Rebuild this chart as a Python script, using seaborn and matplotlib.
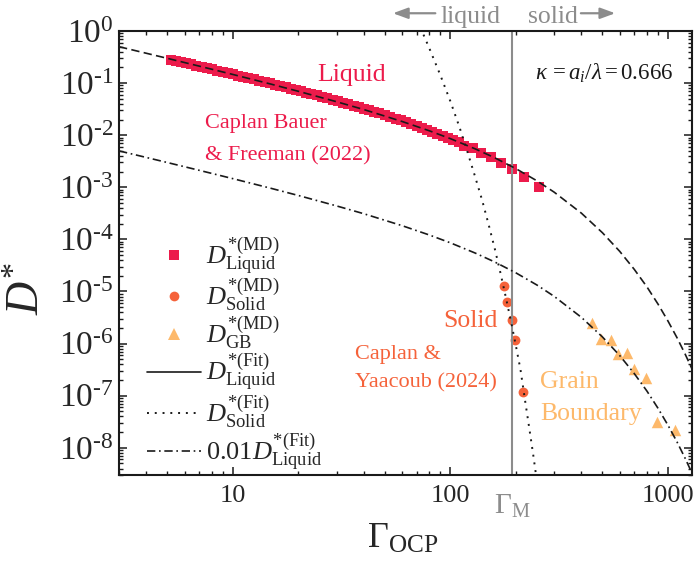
import numpy as np
import pandas as pd
import matplotlib
matplotlib.use("Agg")
import matplotlib.pyplot as plt
import seaborn as sns
from matplotlib.lines import Line2D
from matplotlib import ticker, transforms

# ---------------- data ----------------
liq_gamma = [5.2, 5.5, 5.8, 6.1, 6.4, 6.8, 7.2, 7.6, 8.0, 8.5, 9.0, 9.5, 10, 10.6,
             11.2, 11.8, 12.5, 13.2, 14, 14.8, 15.6, 16.5, 17.5, 18.5, 19.5, 20.6,
             21.8, 23, 24.3, 25.7, 27.2, 28.8, 30.4, 32.1, 34, 36, 38, 40, 42.3,
             44.7, 47.2, 50, 53, 56, 59, 62.5, 66, 70, 74, 78, 82.5, 87, 92, 97,
             103, 109, 116, 127, 138, 153, 171, 191, 218, 255]
liq_D = [0.279, 0.265, 0.2515, 0.2395, 0.2286, 0.2156, 0.2038, 0.1933, 0.1838,
         0.1732, 0.1636, 0.1551, 0.1473, 0.1389, 0.1314, 0.1246, 0.1175, 0.1111,
         0.1046, 0.0988, 0.0935, 0.0881, 0.0828, 0.0781, 0.0738, 0.0695, 0.0653,
         0.0616, 0.0579, 0.0544, 0.0510, 0.0478, 0.0448, 0.0421, 0.0393, 0.0367,
         0.0343, 0.0322, 0.0300, 0.0280, 0.0261, 0.0242, 0.0224, 0.02075, 0.0193,
         0.0178, 0.01644, 0.01508, 0.01387, 0.01279, 0.01170, 0.01075, 0.00980,
         0.00896, 0.00807, 0.00729, 0.00631, 0.00562, 0.00457, 0.00380, 0.00295,
         0.00226, 0.001585, 0.00101]

sol_gamma = [176, 183, 191, 199, 215]
sol_D = [1.28e-5, 6.4e-6, 2.8e-6, 1.17e-6, 1.2e-7]

gb_gamma = [447, 491, 546, 590, 649, 699, 794, 892, 1082]
gb_D = [2.5e-6, 1.24e-6, 1.17e-6, 6.2e-7, 6.5e-7, 3.3e-7, 2.2e-7, 3.1e-8, 2.2e-8]

fit_liq_gamma = [3, 4, 5, 7, 10, 15, 20, 30, 40, 60, 80, 100, 130, 160, 200, 250,
                 300, 400, 500, 600, 700, 800, 900, 1000, 1100, 1200, 1300]
fit_liq_D = [0.500, 0.3745, 0.299, 0.2122, 0.1467, 0.0955, 0.0697, 0.0439, 0.0311,
             0.01834, 0.01216, 0.00859, 0.00547, 0.00368, 0.00228, 0.00133,
             8.06e-4, 3.19e-4, 1.34e-4, 5.90e-5, 2.66e-5, 1.23e-5, 5.73e-6,
             2.71e-6, 1.30e-6, 6.25e-7, 3.03e-7]
gb_scale = 0.01  # "0.01 D*(Fit) Liquid"

fit_sol_gamma = [70, 74, 80, 90, 100, 110, 120, 130, 140, 150, 160, 170, 180, 190,
                 200, 210, 220, 230, 240, 250]
fit_sol_D = [1.58, 1.0, 0.468, 0.141, 0.0447, 0.01445, 4.68e-3, 1.585e-3, 5.62e-4,
             1.905e-4, 6.61e-5, 2.24e-5, 7.59e-6, 2.63e-6, 9.12e-7, 3.16e-7,
             8.51e-8, 2.51e-8, 7.59e-9, 2.24e-9]

gamma_melt = 192
x_major = [10, 100, 1000]
x_major_labels = ["10", "100", "1000"]
y_exponents = [0, -1, -2, -3, -4, -5, -6, -7, -8]

# ---------------- style ----------------
sns.set_theme(style="ticks")
plt.rcParams.update({
    "font.family": ["Liberation Serif", "DejaVu Serif"],
    "mathtext.fontset": "custom",
    "mathtext.rm": "Liberation Serif",
    "mathtext.it": "Liberation Serif:italic",
    "mathtext.bf": "Liberation Serif:bold",
    "axes.linewidth": 1.5,
})

C_LIQ = "#EC1B4B"
C_SOL = "#F5623A"
C_GB = "#FDB96B"
C_GRAY = "#8C8C8C"

fig = plt.figure(figsize=(6.96, 5.68), dpi=100)
ax = fig.add_axes([0.1710, 0.1637, 0.8233, 0.7817])
ax.set_xscale("log")
ax.set_yscale("log")

liq_df = pd.DataFrame({"g": liq_gamma, "D": liq_D})
sol_df = pd.DataFrame({"g": sol_gamma, "D": sol_D})
gb_df = pd.DataFrame({"g": gb_gamma, "D": gb_D})
fl_df = pd.DataFrame({"g": fit_liq_gamma, "D": fit_liq_D})
fl01_df = pd.DataFrame({"g": fit_liq_gamma, "D": np.asarray(fit_liq_D) * gb_scale})
fs_df = pd.DataFrame({"g": fit_sol_gamma, "D": fit_sol_D})

sns.scatterplot(data=liq_df, x="g", y="D", marker="s", s=52, color=C_LIQ,
                linewidth=0, ax=ax, zorder=2)
sns.scatterplot(data=sol_df, x="g", y="D", marker="o", s=50, color=C_SOL,
                linewidth=0, ax=ax, zorder=2)
sns.scatterplot(data=gb_df, x="g", y="D", marker="^", s=68, color=C_GB,
                linewidth=0, ax=ax, zorder=2)

ax.axvline(gamma_melt, color=C_GRAY, lw=1.5, zorder=2.5)

sns.lineplot(data=fl_df, x="g", y="D", sort=False, estimator=None, color="k",
             lw=1.2, linestyle=(0, (5, 2.6)), ax=ax, zorder=3)
sns.lineplot(data=fl01_df, x="g", y="D", sort=False, estimator=None, color="k",
             lw=1.2, linestyle=(0, (5, 2.2, 1, 2.2)), ax=ax, zorder=3)
sns.lineplot(data=fs_df, x="g", y="D", sort=False, estimator=None, color="k",
             lw=1.4, linestyle=(0, (1, 3)), ax=ax, zorder=3)

ax.set_xlim(3, 1290)
ax.set_ylim(3e-9, 1)
ax.set_xlabel("")
ax.set_ylabel("")

# ticks
ax.xaxis.set_major_locator(ticker.FixedLocator(x_major))
ax.xaxis.set_major_formatter(ticker.FixedFormatter(x_major_labels))
ax.xaxis.set_minor_locator(ticker.LogLocator(base=10, subs=np.arange(2, 10), numticks=100))
ax.xaxis.set_minor_formatter(ticker.NullFormatter())
y_major = [10.0 ** e for e in y_exponents]
y_labels = [r"$10^{%s}$" % (str(e) if e >= 0 else r"\text{-}%d" % (-e)) for e in y_exponents]
ax.yaxis.set_major_locator(ticker.FixedLocator(y_major))
ax.yaxis.set_major_formatter(ticker.FixedFormatter(y_labels))
ax.yaxis.set_minor_locator(ticker.LogLocator(base=10, subs=np.arange(2, 10), numticks=100))
ax.yaxis.set_minor_formatter(ticker.NullFormatter())

ax.tick_params(which="both", direction="in", top=True, right=True, color="k")
ax.tick_params(which="major", length=6, width=1.1)
ax.tick_params(which="minor", length=3, width=1.0)
ax.tick_params(axis="x", which="major", labelsize=19, pad=7)
ax.tick_params(axis="y", which="major", labelsize=24, pad=4)
for sp in ax.spines.values():
    sp.set_linewidth(1.5)
    sp.set_color("k")

# axis labels
fig.text(403 / 696, 1 - 548 / 568, r"$\Gamma_{\rm OCP}$", fontsize=26,
         ha="center", va="baseline")
fig.text(28 / 696, 1 - 288 / 568, r"$D^{*}$", fontsize=33, rotation=90,
         ha="center", va="center")

# annotations
T = ax.transAxes
ax.text(0.4066, 0.887, "Liquid", color=C_LIQ, fontsize=18.5, ha="center",
        va="baseline", transform=T)
ax.text(0.150, 0.781, "Caplan Bauer", color=C_LIQ, fontsize=16, ha="left",
        va="baseline", transform=T)
ax.text(0.150, 0.7095, "& Freeman (2022)", color=C_LIQ, fontsize=16, ha="left",
        va="baseline", transform=T)
ax.text(0.967, 0.8896, r"$\kappa\,=a_i/\lambda = 0.666$", color="k", fontsize=16.5,
        ha="right", va="baseline", transform=T)
ax.text(0.661, 0.334, "Solid", color=C_SOL, fontsize=18.5, ha="right",
        va="baseline", transform=T)
ax.text(0.412, 0.2605, "Caplan &", color=C_SOL, fontsize=16, ha="left",
        va="baseline", transform=T)
ax.text(0.412, 0.1966, "Yaacoub (2024)", color=C_SOL, fontsize=16, ha="left",
        va="baseline", transform=T)
ax.text(0.7347, 0.1966, "Grain", color=C_GB, fontsize=18.5, ha="left",
        va="baseline", transform=T)
ax.text(0.7347, 0.124, "Boundary", color=C_GB, fontsize=18.5, ha="left",
        va="baseline", transform=T)

ax.text(0.665, 1.0187, "liquid", color=C_GRAY, fontsize=18.5, ha="right",
        va="baseline", transform=T, clip_on=False)
ax.text(0.714, 1.0187, "solid", color=C_GRAY, fontsize=18.5, ha="left",
        va="baseline", transform=T, clip_on=False)
arrow_kw = dict(arrowstyle="-|>,head_length=0.6,head_width=0.22", color=C_GRAY,
                lw=1.6, mutation_scale=15, shrinkA=0, shrinkB=0)
ax.annotate("", xy=(0.478, 1.040), xytext=(0.552, 1.040), xycoords="axes fraction",
            arrowprops=arrow_kw, annotation_clip=False)
ax.annotate("", xy=(0.866, 1.040), xytext=(0.806, 1.040), xycoords="axes fraction",
            arrowprops=arrow_kw, annotation_clip=False)

bt = transforms.blended_transform_factory(ax.transData, ax.transAxes)
ax.text(gamma_melt, -0.0863, r"$\Gamma_{\rm M}$", color=C_GRAY, fontsize=21,
        ha="center", va="baseline", transform=bt, clip_on=False)

# legend
handles = [
    Line2D([], [], ls="None", marker="s", ms=7, color=C_LIQ, mew=0),
    Line2D([], [], ls="None", marker="o", ms=7, color=C_SOL, mew=0),
    Line2D([], [], ls="None", marker="^", ms=8.2, color=C_GB, mew=0),
    Line2D([], [], ls="-", lw=1.2, color="k"),
    Line2D([], [], ls=(0, (1, 3)), lw=1.4, color="k"),
    Line2D([], [], ls=(0, (5, 2.2, 1, 2.2)), lw=1.2, color="k"),
]
labels = [
    r"$D^{*\rm (MD)}_{\rm Liquid}$",
    r"$D^{*\rm (MD)}_{\rm Solid}$",
    r"$D^{*\rm (MD)}_{\rm GB}$",
    r"$D^{*\rm (Fit)}_{\rm Liquid}$",
    r"$D^{*\rm (Fit)}_{\rm Solid}$",
    r"$0.01D^{*\rm (Fit)}_{\rm Liquid}$",
]
ax.legend(handles, labels, loc="upper left", bbox_to_anchor=(0.048, 0.54),
          frameon=False, fontsize=19, handlelength=2.05, handletextpad=0.22,
          labelspacing=0.0, borderpad=0, borderaxespad=0)

fig.savefig("out.png", dpi=100)
